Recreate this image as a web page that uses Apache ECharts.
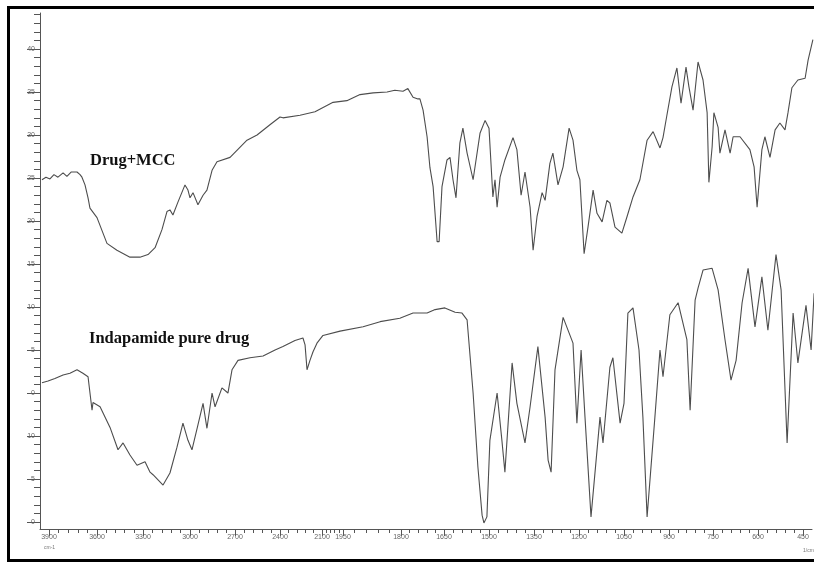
<!DOCTYPE html>
<html>
<head>
<meta charset="utf-8">
<title>IR spectra</title>
<script src="https://cdn.jsdelivr.net/npm/echarts@6/dist/echarts.min.js"></script>
<style>
  html, body { margin: 0; padding: 0; background: #fff; }
  #main { width: 814px; height: 563px; }
</style>
</head>
<body>
<div id="main"></div>
<script>
// wavenumber tick labels (cm-1)
var xTickValues = [3900, 3600, 3300, 3000, 2700, 2400, 2100, 1950, 1800, 1650, 1500, 1350, 1200, 1050, 900, 750, 600, 450];
// %T tick values and the labels printed beside them
var yTickValues = [40, 35, 30, 25, 20, 15, 10, 5, 0, -5, -10, -15];
var yTickLabels = ['40', '35', '30', '25', '20', '15', '10', '5', '0', '10', '5', '0'];

// Drug+MCC trace: wavenumber, %T
var mccWavenumber = [3944, 3919, 3894, 3869, 3844, 3812, 3788, 3762, 3725, 3706, 3694, 3675, 3656, 3644, 3600, 3535, 3470, 3385, 3320, 3268,
  3223, 3179, 3147, 3128, 3109, 3077, 3032, 3013, 3000, 2980, 2947, 2913, 2887, 2853, 2820, 2733, 2620, 2553, 2467, 2400,
  2379, 2257, 2150, 2021, 1940, 1906, 1872, 1836, 1816, 1793, 1776, 1758, 1741, 1734, 1723, 1709, 1699, 1688, 1674, 1667,
  1657, 1640, 1630, 1620, 1610, 1597, 1587, 1573, 1553, 1530, 1513, 1500, 1487, 1480, 1473, 1463, 1447, 1420, 1407, 1393,
  1380, 1363, 1353, 1340, 1323, 1313, 1297, 1287, 1270, 1253, 1233, 1220, 1207, 1197, 1183, 1170, 1153, 1140, 1123, 1107,
  1097, 1080, 1057, 1040, 1020, 997, 973, 953, 930, 920, 907, 890, 873, 859, 842, 832, 818, 801, 784, 770,
  764, 753, 747, 733, 727, 710, 693, 683, 660, 627, 613, 603, 587, 577, 560, 543, 527, 510, 500, 487,
  467, 443, 433, 417];
var mccTransmit = [24.8, 25.1, 24.9, 25.4, 25.1, 25.6, 25.2, 25.7, 25.7, 25.4, 25.1, 24.2, 22.7, 21.5, 20.4, 17.4, 16.6, 15.8, 15.8, 16.1,
  16.9, 19.0, 21.1, 21.3, 20.7, 22.2, 24.2, 23.6, 22.7, 23.3, 21.9, 23.0, 23.6, 25.9, 26.9, 27.4, 29.4, 30.0, 31.2, 32.1,
  32.0, 32.3, 32.7, 33.8, 34.0, 34.7, 34.9, 35.0, 35.2, 35.1, 35.4, 34.4, 34.2, 34.2, 32.9, 29.8, 26.2, 24.0, 17.6, 17.6,
  24.0, 27.1, 27.4, 24.8, 22.7, 29.1, 30.8, 27.9, 24.8, 30.2, 31.7, 30.8, 22.8, 24.8, 21.6, 25.1, 27.1, 29.7, 28.3, 23.0,
  25.7, 21.6, 16.6, 20.5, 23.3, 22.4, 26.7, 27.9, 24.2, 26.3, 30.8, 29.4, 25.9, 24.8, 16.2, 19.3, 23.6, 20.9, 19.9, 22.4,
  22.1, 19.3, 18.6, 20.5, 22.8, 24.8, 29.4, 30.4, 28.5, 29.7, 32.3, 35.6, 37.8, 33.7, 37.9, 35.6, 32.9, 38.5, 36.4, 32.6,
  24.5, 28.6, 32.6, 30.9, 27.9, 30.6, 27.9, 29.8, 29.8, 28.3, 26.3, 21.6, 28.3, 29.8, 27.4, 30.6, 31.4, 30.6, 32.6, 35.5,
  36.4, 36.6, 38.7, 41.1];

// Indapamide pure drug trace: wavenumber, %T
var pureWavenumber = [3944, 3906, 3863, 3812, 3769, 3725, 3688, 3656, 3631, 3625, 3580, 3515, 3463, 3430, 3385, 3339, 3287, 3255, 3236, 3204,
  3172, 3128, 3083, 3045, 3013, 2987, 2947, 2913, 2887, 2853, 2833, 2787, 2747, 2720, 2680, 2600, 2513, 2433, 2379, 2293,
  2236, 2221, 2207, 2186, 2164, 2136, 2093, 1971, 1898, 1854, 1803, 1758, 1709, 1681, 1647, 1613, 1590, 1573, 1553, 1537,
  1523, 1517, 1507, 1497, 1473, 1457, 1447, 1423, 1407, 1380, 1363, 1337, 1313, 1303, 1293, 1280, 1253, 1220, 1207, 1193,
  1180, 1160, 1130, 1120, 1097, 1087, 1063, 1050, 1037, 1020, 1000, 987, 973, 947, 930, 920, 897, 869, 839, 828,
  811, 801, 784, 753, 733, 710, 690, 673, 653, 633, 610, 587, 567, 540, 523, 503, 483, 467, 440, 423,
  413];
var pureTransmit = [1.2, 1.4, 1.7, 2.1, 2.3, 2.7, 2.3, 1.9, -2.0, -1.1, -1.6, -4.0, -6.6, -5.8, -7.2, -8.4, -8.0, -9.2, -9.5, -10.1,
  -10.7, -9.3, -6.3, -3.5, -5.5, -6.6, -3.7, -1.2, -4.1, 0.0, -1.6, 0.6, 0.0, 2.7, 3.8, 4.1, 4.3, 5.0, 5.4, 6.1,
  6.4, 5.6, 2.7, 3.8, 4.8, 5.8, 6.7, 7.2, 7.7, 8.3, 8.7, 9.3, 9.3, 9.7, 9.9, 9.4, 9.3, 8.5, 0.0, -8.6,
  -14.2, -15.1, -14.4, -5.5, 0.0, -5.5, -9.2, 3.5, -1.2, -5.8, -1.6, 5.4, -2.8, -7.8, -9.2, 2.7, 8.8, 5.8, -3.5, 5.0,
  -2.8, -14.4, -2.8, -5.8, 3.0, 4.1, -3.5, -1.2, 9.3, 9.9, 5.0, -2.8, -14.4, -2.8, 5.0, 1.9, 9.1, 10.5, 6.2, -2.0,
  10.8, 12.2, 14.3, 14.5, 12.0, 6.2, 1.5, 3.8, 10.5, 14.5, 7.7, 13.5, 7.3, 16.1, 12.0, -5.8, 9.3, 3.5, 10.2, 5.0,
  11.6];

// the instrument prints wavenumber on a stretched scale; these are the label
// positions along the plot width (units = px inside the 772 wide grid, offset 40)
var scaleAt = [49, 97, 143, 190, 235, 280, 322, 343, 401, 444, 489, 534, 579, 624, 669, 713, 758, 803];

function toU(w) {
    var n = xTickValues.length;
    var i = 0;
    while (i < n - 2 && w < xTickValues[i + 1]) i++;
    var w0 = xTickValues[i], w1 = xTickValues[i + 1];
    var u0 = scaleAt[i], u1 = scaleAt[i + 1];
    return u0 + (w - w0) * (u1 - u0) / (w1 - w0);
}

function pairs(ws, vs) {
    var out = [];
    for (var i = 0; i < ws.length; i++) out.push([toU(ws[i]), vs[i]]);
    return out;
}

var majorU = xTickValues.map(toU);
var minorU = [];
for (var i = 0; i < majorU.length - 1; i++) {
    for (var k = 1; k < 5; k++) minorU.push(majorU[i] + (majorU[i + 1] - majorU[i]) * k / 5);
}
var yMinor = [];
for (var v = -15; v <= 44; v++) yMinor.push(v);

var axisGray = '#555';
var lblStyle = { color: '#666', fontSize: 7, fontFamily: 'Liberation Sans' };

var chart = echarts.init(document.getElementById('main'));
var option = {
    animation: false,
    backgroundColor: '#fff',
    grid: { left: 40, right: 2, top: 13, bottom: 34 },
    xAxis: [
        {
            type: 'value', min: 40, max: 812,
            axisLine: { onZero: false, lineStyle: { color: axisGray, width: 1 } },
            axisTick: { customValues: minorU, length: 4, lineStyle: { color: axisGray } },
            axisLabel: { show: false },
            splitLine: { show: false }
        },
        {
            type: 'value', min: 40, max: 812, position: 'bottom',
            axisLine: { show: false, onZero: false },
            axisTick: { customValues: majorU, length: 7, lineStyle: { color: axisGray } },
            axisLabel: Object.assign({
                customValues: majorU, margin: 5,
                formatter: function (val) {
                    var best = 0;
                    for (var j = 0; j < majorU.length; j++) {
                        if (Math.abs(majorU[j] - val) < Math.abs(majorU[best] - val)) best = j;
                    }
                    return String(xTickValues[best]);
                }
            }, lblStyle),
            splitLine: { show: false }
        }
    ],
    yAxis: [
        {
            type: 'value', min: -15.81, max: 44.19,
            axisLine: { show: true, onZero: false, lineStyle: { color: axisGray, width: 1 } },
            axisTick: { show: true, customValues: yMinor, length: 6, lineStyle: { color: axisGray } },
            axisLabel: { show: false },
            splitLine: { show: false }
        },
        {
            type: 'value', min: -15.81, max: 44.19, position: 'left',
            axisLine: { show: false, onZero: false },
            axisTick: { show: true, customValues: yTickValues, length: 13, lineStyle: { color: axisGray } },
            axisLabel: Object.assign({
                customValues: yTickValues, margin: 5,
                formatter: function (val) {
                    var idx = yTickValues.indexOf(Math.round(val));
                    return idx >= 0 ? yTickLabels[idx] : '';
                }
            }, lblStyle),
            splitLine: { show: false }
        }
    ],
    series: [
        {
            name: 'Drug+MCC', type: 'line', xAxisIndex: 0, yAxisIndex: 0,
            showSymbol: false, smooth: false,
            lineStyle: { color: '#4d4d4d', width: 1.1 },
            data: pairs(mccWavenumber, mccTransmit)
        },
        {
            name: 'Indapamide pure drug', type: 'line', xAxisIndex: 0, yAxisIndex: 0,
            showSymbol: false, smooth: false,
            lineStyle: { color: '#4d4d4d', width: 1.1 },
            data: pairs(pureWavenumber, pureTransmit)
        }
    ],
    graphic: [
        {
            type: 'rect', silent: true,
            shape: { x: 8.5, y: 7.5, width: 830, height: 553 },
            style: { fill: null, stroke: '#000', lineWidth: 3 }
        },
        {
            type: 'text', left: 90, top: 152,
            style: { text: 'Drug+MCC', font: 'bold 16.5px "Liberation Serif"', fill: '#111' }
        },
        {
            type: 'text', left: 89, top: 330,
            style: { text: 'Indapamide pure drug', font: 'bold 16.5px "Liberation Serif"', fill: '#111' }
        },
        {
            type: 'text', left: 44, top: 545,
            style: { text: 'cm-1', font: '5px "Liberation Sans"', fill: '#777' }
        },
        {
            type: 'text', left: 803, top: 548,
            style: { text: '1/cm', font: '5px "Liberation Sans"', fill: '#777' }
        }
    ]
};
chart.setOption(option);
</script>
</body>
</html>
